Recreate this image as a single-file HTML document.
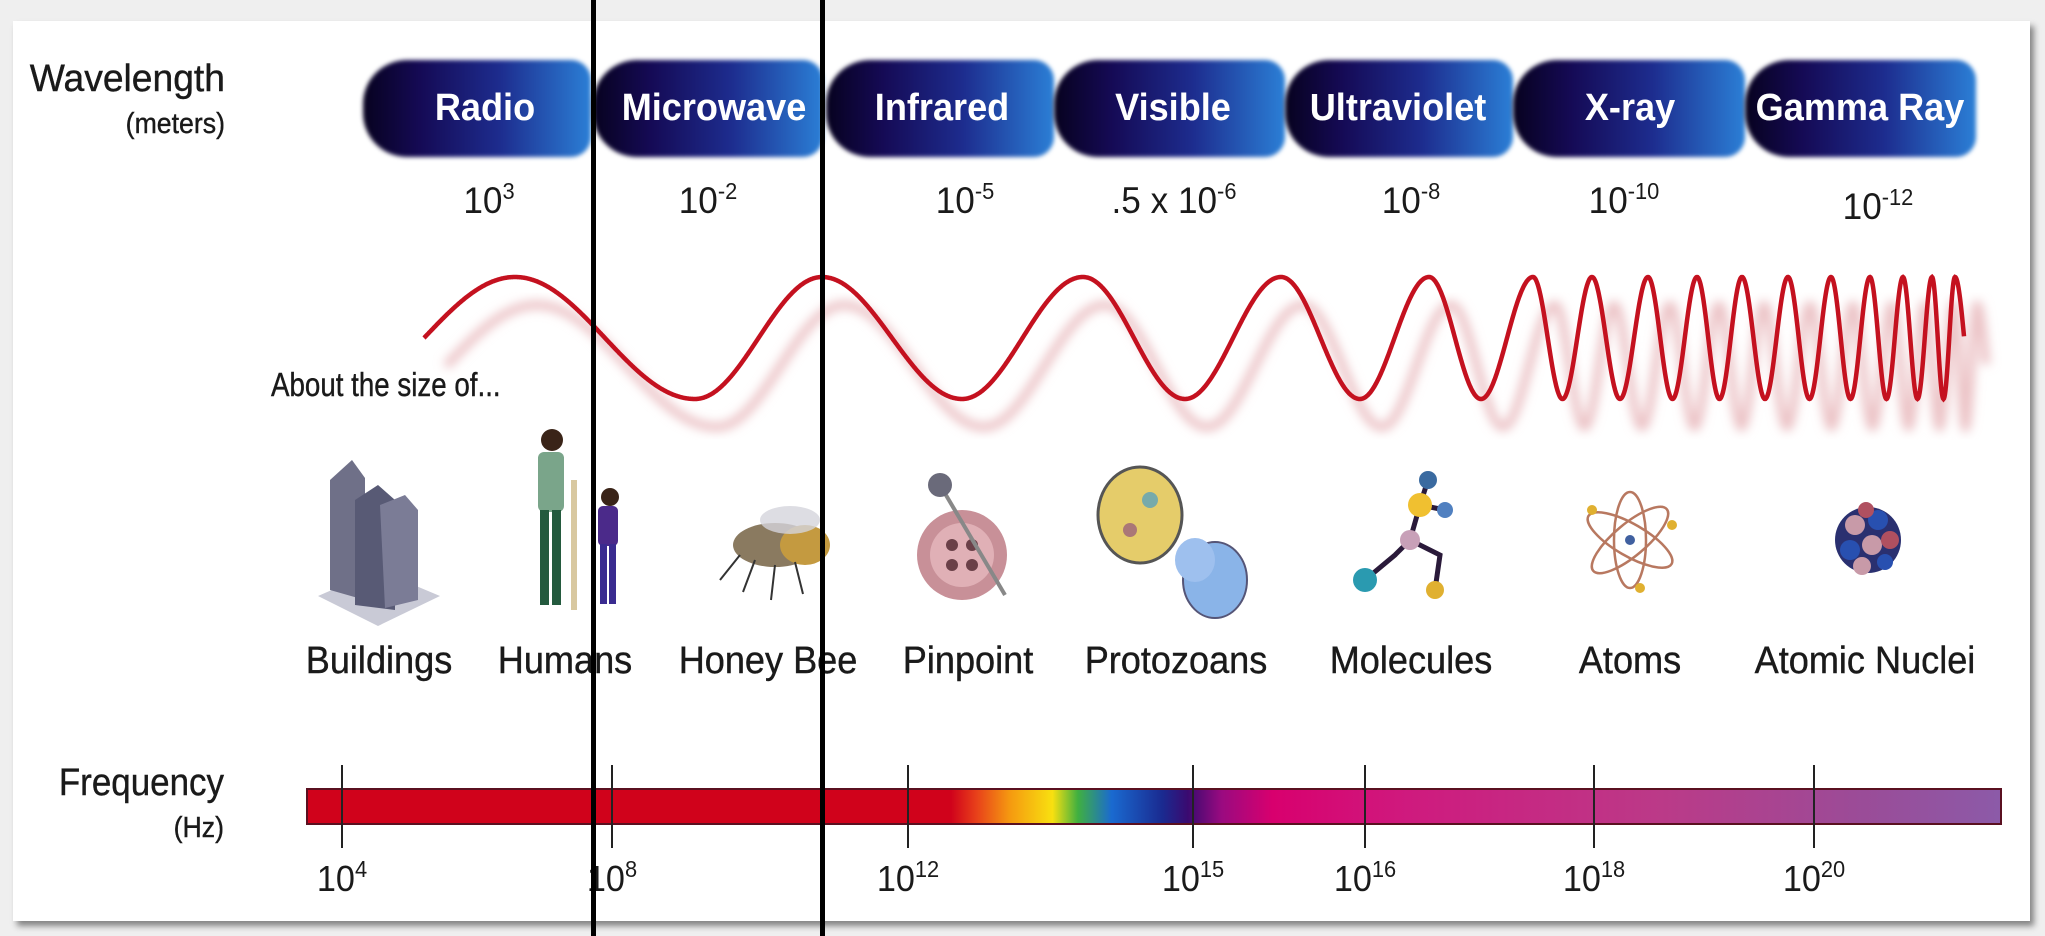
<!DOCTYPE html>
<html><head><meta charset="utf-8">
<style>
html,body{margin:0;padding:0;}
body{width:2045px;height:936px;background:#efefef;position:relative;overflow:hidden;font-family:"Liberation Sans",sans-serif;}
.card{position:absolute;left:13px;top:21px;width:2017px;height:900px;background:#fff;box-shadow:4px 5px 6px rgba(0,0,0,0.45);}
.t{position:absolute;white-space:nowrap;color:#1a1a1a;-webkit-text-stroke:0.4px #1a1a1a;}
.r{transform:translateX(-100%) scaleX(0.92);transform-origin:right top;}
.pill{position:absolute;top:60px;height:97px;border-radius:44px 20px 20px 44px;background:linear-gradient(90deg,#07021f 0%,#150a55 25%,#1d2c8e 60%,#2b7fd6 100%);filter:blur(2px);}
.pl{position:absolute;top:87px;color:#fff;font-weight:bold;font-size:38px;white-space:nowrap;transform:translateX(-50%) scaleX(0.95);}
.val{position:absolute;top:180px;font-size:37px;color:#1a1a1a;white-space:nowrap;transform:translateX(-50%) scaleX(0.95);}
.val sup{font-size:23px;vertical-align:14px;line-height:0;}
.lab{position:absolute;top:640px;font-size:38px;color:#1a1a1a;-webkit-text-stroke:0.4px #1a1a1a;white-space:nowrap;transform:translateX(-50%) scaleX(0.95);}
.fl{position:absolute;top:858px;font-size:36px;color:#1a1a1a;white-space:nowrap;transform:translateX(-50%) scaleX(0.95);}
.fl sup{font-size:23px;vertical-align:14px;line-height:0;}
.tick{position:absolute;top:765px;width:2px;height:83px;background:#222;}
.vl{position:absolute;top:0;width:5px;height:936px;background:#000;}
</style></head><body>
<div class="card"></div>

<div class="t r" style="left:225px;top:58px;font-size:38px;transform:translateX(-100%) scaleX(0.98);">Wavelength</div>
<div class="t r" style="left:225px;top:108px;font-size:29px;">(meters)</div>

<div class="pill" style="left:363px;width:228px"></div>
<div class="pill" style="left:593px;width:230px"></div>
<div class="pill" style="left:826px;width:228px"></div>
<div class="pill" style="left:1054px;width:231px"></div>
<div class="pill" style="left:1285px;width:228px"></div>
<div class="pill" style="left:1513px;width:232px"></div>
<div class="pill" style="left:1745px;width:231px"></div>
<div class="pl" style="left:485px">Radio</div>
<div class="pl" style="left:714px">Microwave</div>
<div class="pl" style="left:942px">Infrared</div>
<div class="pl" style="left:1173px">Visible</div>
<div class="pl" style="left:1398px">Ultraviolet</div>
<div class="pl" style="left:1630px">X-ray</div>
<div class="pl" style="left:1860px">Gamma Ray</div>

<div class="val" style="left:489px">10<sup>3</sup></div>
<div class="val" style="left:708px">10<sup>-2</sup></div>
<div class="val" style="left:965px">10<sup>-5</sup></div>
<div class="val" style="left:1174px">.5 x 10<sup>-6</sup></div>
<div class="val" style="left:1411px">10<sup>-8</sup></div>
<div class="val" style="left:1624px">10<sup>-10</sup></div>
<div class="val" style="left:1878px;top:186px">10<sup>-12</sup></div>

<svg id="wave" style="position:absolute;left:0;top:0" width="2045" height="936">
<defs><filter id="bl"><feGaussianBlur stdDeviation="5"/></filter></defs>
<path id="sh" fill="none" stroke="#ecc4c7" stroke-width="9" filter="url(#bl)" transform="translate(22,28)"/>
<path id="wv" fill="none" stroke="#c4111f" stroke-width="4.5"/>
</svg>

<div class="t" style="left:271px;top:366px;font-size:33px;transform:scaleX(0.84);transform-origin:left top;">About the size of...</div>

<svg style="position:absolute;left:0;top:0" width="2045" height="936">
<polygon points="318,596 378,626 440,596 378,570" fill="#c9cad6"/>
<polygon points="330,480 352,460 365,478 365,600 330,590" fill="#6f7088"/>
<polygon points="355,500 378,485 395,500 395,610 355,605" fill="#585a75"/>
<polygon points="380,505 405,495 418,510 418,600 385,608" fill="#7b7c96"/>
<circle cx="552" cy="440" r="11" fill="#3a2418"/>
<rect x="538" y="452" width="26" height="60" rx="6" fill="#7aa58a"/>
<rect x="540" y="510" width="9" height="95" fill="#245a3e"/>
<rect x="552" y="510" width="9" height="95" fill="#245a3e"/>
<rect x="571" y="480" width="6" height="130" fill="#d8c8a0"/>
<circle cx="610" cy="497" r="9" fill="#3a2418"/>
<rect x="598" y="506" width="20" height="40" rx="5" fill="#4b2a8a"/>
<rect x="600" y="544" width="7" height="60" fill="#3a2b90"/>
<rect x="609" y="544" width="7" height="60" fill="#3a2b90"/>
<ellipse cx="775" cy="545" rx="42" ry="22" fill="#8a7a60"/>
<ellipse cx="805" cy="545" rx="25" ry="20" fill="#c49a40"/>
<ellipse cx="790" cy="520" rx="30" ry="14" fill="#d5d5dc" opacity="0.8"/>
<path d="M740 555 l-20 25 M755 560 l-12 32 M775 565 l-4 35 M795 562 l8 32" stroke="#333" stroke-width="2"/>
<circle cx="962" cy="555" r="45" fill="#c89098"/>
<circle cx="962" cy="555" r="32" fill="#e0b0b6"/>
<circle cx="952" cy="545" r="6" fill="#6a4048"/><circle cx="972" cy="545" r="6" fill="#6a4048"/>
<circle cx="952" cy="565" r="6" fill="#6a4048"/><circle cx="972" cy="565" r="6" fill="#6a4048"/>
<line x1="940" y1="485" x2="1005" y2="595" stroke="#888" stroke-width="4"/>
<circle cx="940" cy="485" r="12" fill="#6a6a7a"/>
<ellipse cx="1140" cy="515" rx="42" ry="48" fill="#e5cc6a" stroke="#555" stroke-width="3"/>
<circle cx="1150" cy="500" r="8" fill="#7aa"/><circle cx="1130" cy="530" r="7" fill="#a77"/>
<ellipse cx="1215" cy="580" rx="32" ry="38" fill="#8ab4e8" stroke="#557" stroke-width="2"/>
<ellipse cx="1195" cy="560" rx="20" ry="22" fill="#9ec0ee"/>
<path d="M1365 580 L1395 555 L1410 540 L1440 555 L1435 590 M1410 540 L1420 505 L1428 480 M1420 505 L1445 510" stroke="#2a1a3a" stroke-width="5" fill="none"/>
<circle cx="1365" cy="580" r="12" fill="#2a9ab0"/><circle cx="1410" cy="540" r="10" fill="#c8a0b8"/>
<circle cx="1420" cy="505" r="12" fill="#f0c030"/><circle cx="1428" cy="480" r="9" fill="#3a6aa0"/>
<circle cx="1445" cy="510" r="8" fill="#5080c0"/><circle cx="1435" cy="590" r="9" fill="#e0b030"/>
<g fill="none" stroke="#b87860" stroke-width="2.5">
<ellipse cx="1630" cy="540" rx="48" ry="16" transform="rotate(30 1630 540)"/>
<ellipse cx="1630" cy="540" rx="48" ry="16" transform="rotate(-40 1630 540)"/>
<ellipse cx="1630" cy="540" rx="48" ry="16" transform="rotate(90 1630 540)"/>
</g>
<circle cx="1630" cy="540" r="5" fill="#4060a0"/>
<circle cx="1592" cy="510" r="5" fill="#e0b030"/><circle cx="1672" cy="525" r="5" fill="#e0b030"/><circle cx="1640" cy="588" r="5" fill="#e0b030"/>
<g>
<circle cx="1868" cy="540" r="33" fill="#2a3070"/>
<circle cx="1855" cy="525" r="10" fill="#c89aa8"/><circle cx="1878" cy="520" r="10" fill="#2850b0"/>
<circle cx="1850" cy="550" r="10" fill="#2850b0"/><circle cx="1872" cy="545" r="10" fill="#c89aa8"/>
<circle cx="1890" cy="540" r="9" fill="#b05060"/><circle cx="1862" cy="566" r="9" fill="#c89aa8"/>
<circle cx="1885" cy="562" r="8" fill="#2850b0"/><circle cx="1866" cy="510" r="8" fill="#b05060"/>
</g>
</svg>

<div class="lab" style="left:379px">Buildings</div>
<div class="lab" style="left:565px">Humans</div>
<div class="lab" style="left:768px">Honey Bee</div>
<div class="lab" style="left:968px">Pinpoint</div>
<div class="lab" style="left:1176px">Protozoans</div>
<div class="lab" style="left:1411px">Molecules</div>
<div class="lab" style="left:1630px">Atoms</div>
<div class="lab" style="left:1865px">Atomic Nuclei</div>

<div class="t r" style="left:224px;top:762px;font-size:38px;">Frequency</div>
<div class="t r" style="left:224px;top:812px;font-size:29px;">(Hz)</div>

<div style="position:absolute;left:306px;top:788px;width:1696px;height:37px;border:2px solid #5a1020;box-sizing:border-box;background:linear-gradient(90deg,#d0021b 0%,#d0021b 38%,#e8401a 39.5%,#f59a10 41.5%,#f8e010 44%,#40b040 45.5%,#1a6ad0 47.5%,#1a2a90 50.5%,#3a0a70 52%,#9a0a80 54%,#d8006e 57%,#cf1a7e 65%,#bb3a88 80%,#9a4c98 92%,#8c5aa8 100%);"></div>

<div class="tick" style="left:341px"></div>
<div class="tick" style="left:611px"></div>
<div class="tick" style="left:907px"></div>
<div class="tick" style="left:1192px"></div>
<div class="tick" style="left:1364px"></div>
<div class="tick" style="left:1593px"></div>
<div class="tick" style="left:1813px"></div>

<div class="fl" style="left:342px">10<sup>4</sup></div>
<div class="fl" style="left:612px">10<sup>8</sup></div>
<div class="fl" style="left:908px">10<sup>12</sup></div>
<div class="fl" style="left:1193px">10<sup>15</sup></div>
<div class="fl" style="left:1365px">10<sup>16</sup></div>
<div class="fl" style="left:1594px">10<sup>18</sup></div>
<div class="fl" style="left:1814px">10<sup>20</sup></div>

<div class="vl" style="left:591px"></div>
<div class="vl" style="left:820px"></div>

<script>
(function(){
var px=[424,515,695,822,962,1083,1185,1281,1360,1429,1533,1592,1648,1697,1742,1788,1831,1870,1903,1932,1955,1966];
var ph=[-0.25,0,0.5,1,1.5,2,2.5,3,3.5,4,5,6,7,8,9,10,11,12,13,14,15,15.3];
var cy=338,A=61,d="";
for(var x=424;x<=1964;x+=0.5){
 var i=0;while(i<px.length-2&&x>px[i+1])i++;
 var p=ph[i]+(ph[i+1]-ph[i])*(x-px[i])/(px[i+1]-px[i]);
 var y=cy-A*Math.cos(2*Math.PI*p);
 d+=(d?"L":"M")+x.toFixed(1)+" "+y.toFixed(1);
}
document.getElementById("wv").setAttribute("d",d);
document.getElementById("sh").setAttribute("d",d);
})();
</script>
</body></html>
